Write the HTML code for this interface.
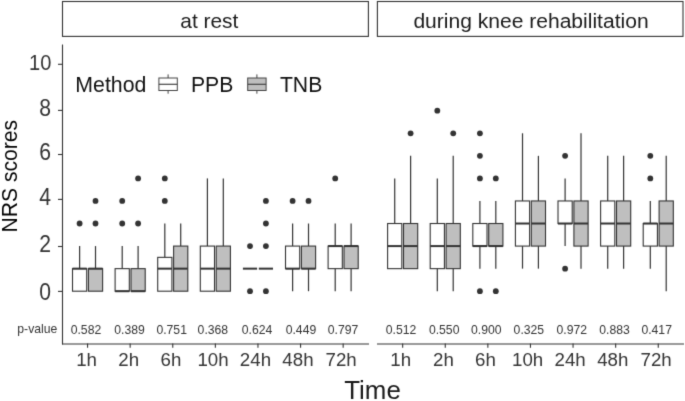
<!DOCTYPE html>
<html><head><meta charset="utf-8"><style>
html,body{margin:0;padding:0;background:#fff;}
body{width:685px;height:401px;overflow:hidden;}
svg{display:block;font-family:"Liberation Sans",sans-serif;filter:grayscale(1);}
</style></head><body>
<svg width="685" height="401" viewBox="0 0 685 401">
<defs><filter id="bl" color-interpolation-filters="sRGB" x="0" y="0" width="685" height="401" filterUnits="userSpaceOnUse"><feConvolveMatrix order="3" kernelMatrix="0.0144 0.0912 0.0144 0.0912 0.5776 0.0912 0.0144 0.0912 0.0144" divisor="1" edgeMode="duplicate"/></filter></defs>
<g filter="url(#bl)">
<rect width="685" height="401" fill="#fff"/>
<rect x="62.5" y="1.5" width="305.9" height="34.9" fill="#fff" stroke="#333" stroke-width="1.1"/>
<rect x="377.4" y="1.5" width="305.6" height="34.9" fill="#fff" stroke="#333" stroke-width="1.1"/>
<text x="180.3" y="28.3" font-size="20.9" fill="#1a1a1a">at rest</text>
<text x="531" y="27.7" font-size="21.05" fill="#1a1a1a" text-anchor="middle">during knee rehabilitation</text>
<line x1="62.5" y1="44.4" x2="62.5" y2="344.5" stroke="#333" stroke-width="1.1"/>
<line x1="62" y1="344" x2="369" y2="344" stroke="#333" stroke-width="1.1"/>
<line x1="377" y1="344" x2="684" y2="344" stroke="#333" stroke-width="1.1"/>
<line x1="58" y1="291.4" x2="62.5" y2="291.4" stroke="#333" stroke-width="1.1"/>
<text transform="translate(51.0,299.6) scale(0.9,1)" font-size="23.5" fill="#333" text-anchor="end">0</text>
<line x1="58" y1="246.5" x2="62.5" y2="246.5" stroke="#333" stroke-width="1.1"/>
<text transform="translate(51.0,251.9) scale(0.9,1)" font-size="23.5" fill="#333" text-anchor="end">2</text>
<line x1="58" y1="199.4" x2="62.5" y2="199.4" stroke="#333" stroke-width="1.1"/>
<text transform="translate(51.0,205.1) scale(0.9,1)" font-size="23.5" fill="#333" text-anchor="end">4</text>
<line x1="58" y1="154.5" x2="62.5" y2="154.5" stroke="#333" stroke-width="1.1"/>
<text transform="translate(51.0,159.9) scale(0.9,1)" font-size="23.5" fill="#333" text-anchor="end">6</text>
<line x1="58" y1="110.4" x2="62.5" y2="110.4" stroke="#333" stroke-width="1.1"/>
<text transform="translate(51.0,116.1) scale(0.9,1)" font-size="23.5" fill="#333" text-anchor="end">8</text>
<line x1="58" y1="64.3" x2="62.5" y2="64.3" stroke="#333" stroke-width="1.1"/>
<text transform="translate(51.4,70.4) scale(0.903,1)" font-size="22.2" fill="#333" text-anchor="end">10</text>
<line x1="87.56" y1="343.6" x2="87.56" y2="347.8" stroke="#333" stroke-width="1.1"/>
<text x="86.56" y="366" font-size="18.7" fill="#333" text-anchor="middle">1h</text>
<text x="85.96" y="333.6" font-size="12.2" fill="#333" text-anchor="middle">0.582</text>
<line x1="79.61" y1="268.64" x2="79.61" y2="246.08" stroke="#333333" stroke-width="1.2"/>
<rect x="72.51" y="268.64" width="14.2" height="22.56" fill="#ffffff" stroke="#333333" stroke-width="1.1"/>
<line x1="72.51" y1="268.64" x2="86.71" y2="268.64" stroke="#333333" stroke-width="2.0"/>
<circle cx="79.61" cy="223.52" r="2.9" fill="#333"/>
<line x1="95.51" y1="268.64" x2="95.51" y2="246.08" stroke="#333333" stroke-width="1.2"/>
<rect x="88.41" y="268.64" width="14.2" height="22.56" fill="#bfbfbf" stroke="#333333" stroke-width="1.1"/>
<line x1="88.41" y1="268.64" x2="102.61" y2="268.64" stroke="#333333" stroke-width="2.0"/>
<circle cx="95.51" cy="223.52" r="2.9" fill="#333"/>
<circle cx="95.51" cy="200.96" r="2.9" fill="#333"/>
<line x1="130.16" y1="343.6" x2="130.16" y2="347.8" stroke="#333" stroke-width="1.1"/>
<text x="128.66" y="366" font-size="18.7" fill="#333" text-anchor="middle">2h</text>
<text x="129.56" y="333.6" font-size="12.2" fill="#333" text-anchor="middle">0.389</text>
<line x1="122.21" y1="268.64" x2="122.21" y2="246.08" stroke="#333333" stroke-width="1.2"/>
<rect x="115.11" y="268.64" width="14.2" height="22.56" fill="#ffffff" stroke="#333333" stroke-width="1.1"/>
<line x1="115.11" y1="291.2" x2="129.31" y2="291.2" stroke="#333333" stroke-width="2.0"/>
<circle cx="122.21" cy="223.52" r="2.9" fill="#333"/>
<circle cx="122.21" cy="200.96" r="2.9" fill="#333"/>
<line x1="138.11" y1="268.64" x2="138.11" y2="246.08" stroke="#333333" stroke-width="1.2"/>
<rect x="131.01" y="268.64" width="14.2" height="22.56" fill="#bfbfbf" stroke="#333333" stroke-width="1.1"/>
<line x1="131.01" y1="291.2" x2="145.21" y2="291.2" stroke="#333333" stroke-width="2.0"/>
<circle cx="138.11" cy="223.52" r="2.9" fill="#333"/>
<circle cx="138.11" cy="178.4" r="2.9" fill="#333"/>
<line x1="172.76" y1="343.6" x2="172.76" y2="347.8" stroke="#333" stroke-width="1.1"/>
<text x="170.96" y="366" font-size="18.7" fill="#333" text-anchor="middle">6h</text>
<text x="171.66" y="333.6" font-size="12.2" fill="#333" text-anchor="middle">0.751</text>
<line x1="164.81" y1="257.36" x2="164.81" y2="223.52" stroke="#333333" stroke-width="1.2"/>
<rect x="157.71" y="257.36" width="14.2" height="33.84" fill="#ffffff" stroke="#333333" stroke-width="1.1"/>
<line x1="157.71" y1="268.64" x2="171.91" y2="268.64" stroke="#333333" stroke-width="2.0"/>
<circle cx="164.81" cy="200.96" r="2.9" fill="#333"/>
<circle cx="164.81" cy="178.4" r="2.9" fill="#333"/>
<line x1="180.71" y1="246.08" x2="180.71" y2="223.52" stroke="#333333" stroke-width="1.2"/>
<rect x="173.61" y="246.08" width="14.2" height="45.12" fill="#bfbfbf" stroke="#333333" stroke-width="1.1"/>
<line x1="173.61" y1="268.64" x2="187.81" y2="268.64" stroke="#333333" stroke-width="2.0"/>
<line x1="215.36" y1="343.6" x2="215.36" y2="347.8" stroke="#333" stroke-width="1.1"/>
<text x="213.06" y="366" font-size="18.7" fill="#333" text-anchor="middle">10h</text>
<text x="212.86" y="333.6" font-size="12.2" fill="#333" text-anchor="middle">0.368</text>
<line x1="207.41" y1="246.08" x2="207.41" y2="178.4" stroke="#333333" stroke-width="1.2"/>
<rect x="200.31" y="246.08" width="14.2" height="45.12" fill="#ffffff" stroke="#333333" stroke-width="1.1"/>
<line x1="200.31" y1="268.64" x2="214.51" y2="268.64" stroke="#333333" stroke-width="2.0"/>
<line x1="223.31" y1="246.08" x2="223.31" y2="178.4" stroke="#333333" stroke-width="1.2"/>
<rect x="216.21" y="246.08" width="14.2" height="45.12" fill="#bfbfbf" stroke="#333333" stroke-width="1.1"/>
<line x1="216.21" y1="268.64" x2="230.41" y2="268.64" stroke="#333333" stroke-width="2.0"/>
<line x1="257.96" y1="343.6" x2="257.96" y2="347.8" stroke="#333" stroke-width="1.1"/>
<text x="255.46" y="366" font-size="18.7" fill="#333" text-anchor="middle">24h</text>
<text x="257.06" y="333.6" font-size="12.2" fill="#333" text-anchor="middle">0.624</text>
<rect x="242.91" y="268.64" width="14.2" height="0" fill="#ffffff" stroke="#333333" stroke-width="1.1"/>
<line x1="242.91" y1="268.64" x2="257.11" y2="268.64" stroke="#333333" stroke-width="2.0"/>
<circle cx="250.01" cy="291.2" r="2.9" fill="#333"/>
<circle cx="250.01" cy="246.08" r="2.9" fill="#333"/>
<rect x="258.81" y="268.64" width="14.2" height="0" fill="#bfbfbf" stroke="#333333" stroke-width="1.1"/>
<line x1="258.81" y1="268.64" x2="273.01" y2="268.64" stroke="#333333" stroke-width="2.0"/>
<circle cx="265.91" cy="291.2" r="2.9" fill="#333"/>
<circle cx="265.91" cy="246.08" r="2.9" fill="#333"/>
<circle cx="265.91" cy="223.52" r="2.9" fill="#333"/>
<circle cx="265.91" cy="200.96" r="2.9" fill="#333"/>
<line x1="300.56" y1="343.6" x2="300.56" y2="347.8" stroke="#333" stroke-width="1.1"/>
<text x="297.96" y="366" font-size="18.7" fill="#333" text-anchor="middle">48h</text>
<text x="300.96" y="333.6" font-size="12.2" fill="#333" text-anchor="middle">0.449</text>
<line x1="292.61" y1="246.08" x2="292.61" y2="223.52" stroke="#333333" stroke-width="1.2"/>
<line x1="292.61" y1="268.64" x2="292.61" y2="291.2" stroke="#333333" stroke-width="1.2"/>
<rect x="285.51" y="246.08" width="14.2" height="22.56" fill="#ffffff" stroke="#333333" stroke-width="1.1"/>
<line x1="285.51" y1="268.64" x2="299.71" y2="268.64" stroke="#333333" stroke-width="2.0"/>
<circle cx="292.61" cy="200.96" r="2.9" fill="#333"/>
<line x1="308.51" y1="246.08" x2="308.51" y2="223.52" stroke="#333333" stroke-width="1.2"/>
<line x1="308.51" y1="268.64" x2="308.51" y2="291.2" stroke="#333333" stroke-width="1.2"/>
<rect x="301.41" y="246.08" width="14.2" height="22.56" fill="#bfbfbf" stroke="#333333" stroke-width="1.1"/>
<line x1="301.41" y1="268.64" x2="315.61" y2="268.64" stroke="#333333" stroke-width="2.0"/>
<circle cx="308.51" cy="200.96" r="2.9" fill="#333"/>
<line x1="343.16" y1="343.6" x2="343.16" y2="347.8" stroke="#333" stroke-width="1.1"/>
<text x="341.16" y="366" font-size="18.7" fill="#333" text-anchor="middle">72h</text>
<text x="343.06" y="333.6" font-size="12.2" fill="#333" text-anchor="middle">0.797</text>
<line x1="335.21" y1="246.08" x2="335.21" y2="223.52" stroke="#333333" stroke-width="1.2"/>
<line x1="335.21" y1="268.64" x2="335.21" y2="291.2" stroke="#333333" stroke-width="1.2"/>
<rect x="328.11" y="246.08" width="14.2" height="22.56" fill="#ffffff" stroke="#333333" stroke-width="1.1"/>
<line x1="328.11" y1="246.08" x2="342.31" y2="246.08" stroke="#333333" stroke-width="2.0"/>
<circle cx="335.21" cy="178.4" r="2.9" fill="#333"/>
<line x1="351.11" y1="246.08" x2="351.11" y2="223.52" stroke="#333333" stroke-width="1.2"/>
<line x1="351.11" y1="268.64" x2="351.11" y2="291.2" stroke="#333333" stroke-width="1.2"/>
<rect x="344.01" y="246.08" width="14.2" height="22.56" fill="#bfbfbf" stroke="#333333" stroke-width="1.1"/>
<line x1="344.01" y1="246.08" x2="358.21" y2="246.08" stroke="#333333" stroke-width="2.0"/>
<line x1="402.66" y1="343.6" x2="402.66" y2="347.8" stroke="#333" stroke-width="1.1"/>
<text x="400.66" y="366" font-size="18.7" fill="#333" text-anchor="middle">1h</text>
<text x="401.06" y="333.6" font-size="12.2" fill="#333" text-anchor="middle">0.512</text>
<line x1="394.71" y1="223.52" x2="394.71" y2="178.4" stroke="#333333" stroke-width="1.2"/>
<rect x="387.61" y="223.52" width="14.2" height="45.12" fill="#ffffff" stroke="#333333" stroke-width="1.1"/>
<line x1="387.61" y1="246.08" x2="401.81" y2="246.08" stroke="#333333" stroke-width="2.0"/>
<line x1="410.61" y1="223.52" x2="410.61" y2="155.84" stroke="#333333" stroke-width="1.2"/>
<rect x="403.51" y="223.52" width="14.2" height="45.12" fill="#bfbfbf" stroke="#333333" stroke-width="1.1"/>
<line x1="403.51" y1="246.08" x2="417.71" y2="246.08" stroke="#333333" stroke-width="2.0"/>
<circle cx="410.61" cy="133.28" r="2.9" fill="#333"/>
<line x1="445.26" y1="343.6" x2="445.26" y2="347.8" stroke="#333" stroke-width="1.1"/>
<text x="443.51" y="366" font-size="18.7" fill="#333" text-anchor="middle">2h</text>
<text x="444.16" y="333.6" font-size="12.2" fill="#333" text-anchor="middle">0.550</text>
<line x1="437.31" y1="223.52" x2="437.31" y2="178.4" stroke="#333333" stroke-width="1.2"/>
<line x1="437.31" y1="268.64" x2="437.31" y2="291.2" stroke="#333333" stroke-width="1.2"/>
<rect x="430.21" y="223.52" width="14.2" height="45.12" fill="#ffffff" stroke="#333333" stroke-width="1.1"/>
<line x1="430.21" y1="246.08" x2="444.41" y2="246.08" stroke="#333333" stroke-width="2.0"/>
<circle cx="437.31" cy="110.72" r="2.9" fill="#333"/>
<line x1="453.21" y1="223.52" x2="453.21" y2="155.84" stroke="#333333" stroke-width="1.2"/>
<line x1="453.21" y1="268.64" x2="453.21" y2="291.2" stroke="#333333" stroke-width="1.2"/>
<rect x="446.11" y="223.52" width="14.2" height="45.12" fill="#bfbfbf" stroke="#333333" stroke-width="1.1"/>
<line x1="446.11" y1="246.08" x2="460.31" y2="246.08" stroke="#333333" stroke-width="2.0"/>
<circle cx="453.21" cy="133.28" r="2.9" fill="#333"/>
<line x1="487.86" y1="343.6" x2="487.86" y2="347.8" stroke="#333" stroke-width="1.1"/>
<text x="485.41" y="366" font-size="18.7" fill="#333" text-anchor="middle">6h</text>
<text x="486.26" y="333.6" font-size="12.2" fill="#333" text-anchor="middle">0.900</text>
<line x1="479.91" y1="223.52" x2="479.91" y2="200.96" stroke="#333333" stroke-width="1.2"/>
<line x1="479.91" y1="246.08" x2="479.91" y2="268.64" stroke="#333333" stroke-width="1.2"/>
<rect x="472.81" y="223.52" width="14.2" height="22.56" fill="#ffffff" stroke="#333333" stroke-width="1.1"/>
<line x1="472.81" y1="246.08" x2="487.01" y2="246.08" stroke="#333333" stroke-width="2.0"/>
<circle cx="479.91" cy="291.2" r="2.9" fill="#333"/>
<circle cx="479.91" cy="178.4" r="2.9" fill="#333"/>
<circle cx="479.91" cy="155.84" r="2.9" fill="#333"/>
<circle cx="479.91" cy="133.28" r="2.9" fill="#333"/>
<line x1="495.81" y1="223.52" x2="495.81" y2="200.96" stroke="#333333" stroke-width="1.2"/>
<line x1="495.81" y1="246.08" x2="495.81" y2="268.64" stroke="#333333" stroke-width="1.2"/>
<rect x="488.71" y="223.52" width="14.2" height="22.56" fill="#bfbfbf" stroke="#333333" stroke-width="1.1"/>
<line x1="488.71" y1="246.08" x2="502.91" y2="246.08" stroke="#333333" stroke-width="2.0"/>
<circle cx="495.81" cy="291.2" r="2.9" fill="#333"/>
<circle cx="495.81" cy="178.4" r="2.9" fill="#333"/>
<line x1="530.46" y1="343.6" x2="530.46" y2="347.8" stroke="#333" stroke-width="1.1"/>
<text x="527.66" y="366" font-size="18.7" fill="#333" text-anchor="middle">10h</text>
<text x="528.86" y="333.6" font-size="12.2" fill="#333" text-anchor="middle">0.325</text>
<line x1="522.51" y1="200.96" x2="522.51" y2="133.28" stroke="#333333" stroke-width="1.2"/>
<line x1="522.51" y1="246.08" x2="522.51" y2="268.64" stroke="#333333" stroke-width="1.2"/>
<rect x="515.41" y="200.96" width="14.2" height="45.12" fill="#ffffff" stroke="#333333" stroke-width="1.1"/>
<line x1="515.41" y1="223.52" x2="529.61" y2="223.52" stroke="#333333" stroke-width="2.0"/>
<line x1="538.41" y1="200.96" x2="538.41" y2="155.84" stroke="#333333" stroke-width="1.2"/>
<line x1="538.41" y1="246.08" x2="538.41" y2="268.64" stroke="#333333" stroke-width="1.2"/>
<rect x="531.31" y="200.96" width="14.2" height="45.12" fill="#bfbfbf" stroke="#333333" stroke-width="1.1"/>
<line x1="531.31" y1="223.52" x2="545.51" y2="223.52" stroke="#333333" stroke-width="2.0"/>
<line x1="573.06" y1="343.6" x2="573.06" y2="347.8" stroke="#333" stroke-width="1.1"/>
<text x="570.11" y="366" font-size="18.7" fill="#333" text-anchor="middle">24h</text>
<text x="571.76" y="333.6" font-size="12.2" fill="#333" text-anchor="middle">0.972</text>
<line x1="565.11" y1="200.96" x2="565.11" y2="178.4" stroke="#333333" stroke-width="1.2"/>
<line x1="565.11" y1="223.52" x2="565.11" y2="246.08" stroke="#333333" stroke-width="1.2"/>
<rect x="558.01" y="200.96" width="14.2" height="22.56" fill="#ffffff" stroke="#333333" stroke-width="1.1"/>
<line x1="558.01" y1="223.52" x2="572.21" y2="223.52" stroke="#333333" stroke-width="2.0"/>
<circle cx="565.11" cy="268.64" r="2.9" fill="#333"/>
<circle cx="565.11" cy="155.84" r="2.9" fill="#333"/>
<line x1="581.01" y1="200.96" x2="581.01" y2="133.28" stroke="#333333" stroke-width="1.2"/>
<line x1="581.01" y1="246.08" x2="581.01" y2="268.64" stroke="#333333" stroke-width="1.2"/>
<rect x="573.91" y="200.96" width="14.2" height="45.12" fill="#bfbfbf" stroke="#333333" stroke-width="1.1"/>
<line x1="573.91" y1="223.52" x2="588.11" y2="223.52" stroke="#333333" stroke-width="2.0"/>
<line x1="615.66" y1="343.6" x2="615.66" y2="347.8" stroke="#333" stroke-width="1.1"/>
<text x="612.76" y="366" font-size="18.7" fill="#333" text-anchor="middle">48h</text>
<text x="614.56" y="333.6" font-size="12.2" fill="#333" text-anchor="middle">0.883</text>
<line x1="607.71" y1="200.96" x2="607.71" y2="155.84" stroke="#333333" stroke-width="1.2"/>
<line x1="607.71" y1="246.08" x2="607.71" y2="268.64" stroke="#333333" stroke-width="1.2"/>
<rect x="600.61" y="200.96" width="14.2" height="45.12" fill="#ffffff" stroke="#333333" stroke-width="1.1"/>
<line x1="600.61" y1="223.52" x2="614.81" y2="223.52" stroke="#333333" stroke-width="2.0"/>
<line x1="623.61" y1="200.96" x2="623.61" y2="155.84" stroke="#333333" stroke-width="1.2"/>
<line x1="623.61" y1="246.08" x2="623.61" y2="268.64" stroke="#333333" stroke-width="1.2"/>
<rect x="616.51" y="200.96" width="14.2" height="45.12" fill="#bfbfbf" stroke="#333333" stroke-width="1.1"/>
<line x1="616.51" y1="223.52" x2="630.71" y2="223.52" stroke="#333333" stroke-width="2.0"/>
<line x1="658.26" y1="343.6" x2="658.26" y2="347.8" stroke="#333" stroke-width="1.1"/>
<text x="656.16" y="366" font-size="18.7" fill="#333" text-anchor="middle">72h</text>
<text x="656.66" y="333.6" font-size="12.2" fill="#333" text-anchor="middle">0.417</text>
<line x1="650.31" y1="223.52" x2="650.31" y2="200.96" stroke="#333333" stroke-width="1.2"/>
<line x1="650.31" y1="246.08" x2="650.31" y2="268.64" stroke="#333333" stroke-width="1.2"/>
<rect x="643.21" y="223.52" width="14.2" height="22.56" fill="#ffffff" stroke="#333333" stroke-width="1.1"/>
<line x1="643.21" y1="223.52" x2="657.41" y2="223.52" stroke="#333333" stroke-width="2.0"/>
<circle cx="650.31" cy="178.4" r="2.9" fill="#333"/>
<circle cx="650.31" cy="155.84" r="2.9" fill="#333"/>
<line x1="666.21" y1="200.96" x2="666.21" y2="155.84" stroke="#333333" stroke-width="1.2"/>
<line x1="666.21" y1="246.08" x2="666.21" y2="291.2" stroke="#333333" stroke-width="1.2"/>
<rect x="659.11" y="200.96" width="14.2" height="45.12" fill="#bfbfbf" stroke="#333333" stroke-width="1.1"/>
<line x1="659.11" y1="223.52" x2="673.31" y2="223.52" stroke="#333333" stroke-width="2.0"/>
<text x="17.3" y="332.7" font-size="12.2" fill="#333">p-value</text>
<text x="372.5" y="399.2" font-size="25.9" fill="#1a1a1a" text-anchor="middle">Time</text>
<text transform="translate(16.6,176.2) rotate(-90) scale(0.958,1)" font-size="22" fill="#000" text-anchor="middle">NRS scores</text>
<text x="75.3" y="91.9" font-size="21.3" fill="#111">Method</text>
<line x1="168.1" y1="74.4" x2="168.1" y2="93.7" stroke="#444" stroke-width="1"/>
<rect x="158.9" y="78" width="18.4" height="12.5" fill="#ffffff" stroke="#444" stroke-width="1"/>
<line x1="158.9" y1="84.3" x2="177.3" y2="84.3" stroke="#444" stroke-width="1.2"/>
<text x="190.9" y="91.9" font-size="21.2" fill="#111">PPB</text>
<line x1="256.9" y1="74.4" x2="256.9" y2="93.7" stroke="#444" stroke-width="1"/>
<rect x="247.7" y="78" width="18.4" height="12.5" fill="#bfbfbf" stroke="#444" stroke-width="1"/>
<line x1="247.7" y1="84.3" x2="266.1" y2="84.3" stroke="#444" stroke-width="1.2"/>
<text x="279.9" y="91.9" font-size="21.2" fill="#111">TNB</text>
</g>
</svg>
</body></html>
